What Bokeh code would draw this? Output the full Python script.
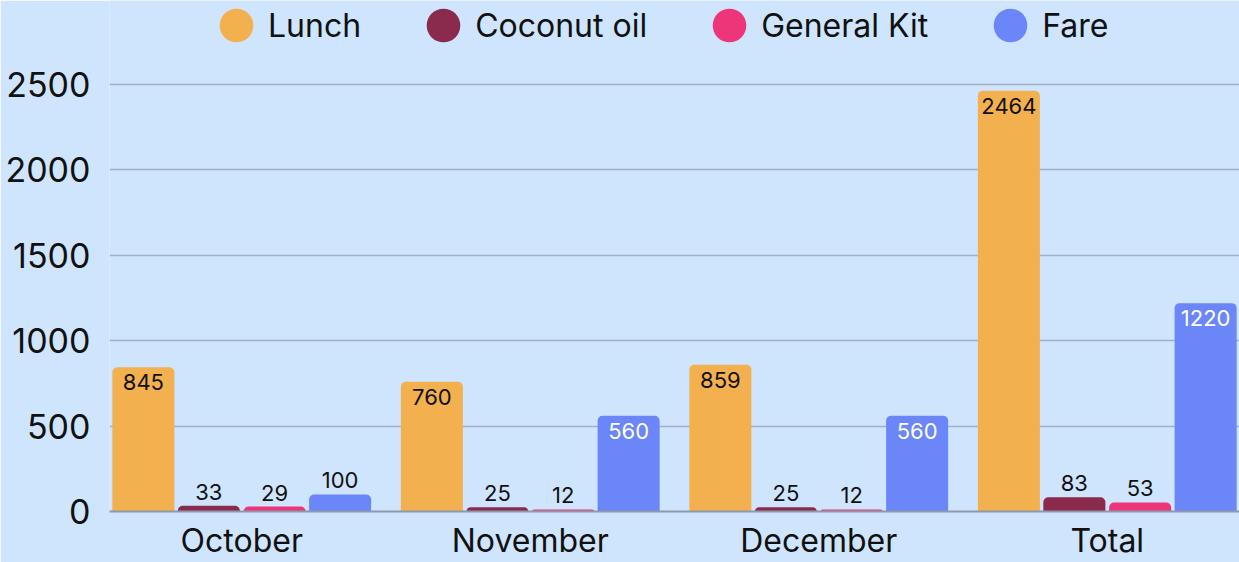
from bokeh.plotting import figure
from bokeh.models import (ColumnDataSource, FactorRange, Range1d, Legend, LegendItem,
                          SingleIntervalTicker)
from bokeh.transform import dodge
from bokeh.core.properties import value
from bokeh.embed import file_html
from bokeh.resources import INLINE

months = ["October", "November", "December", "Total"]
series = ["Lunch", "Coconut oil", "General Kit", "Fare"]
lunch = [845, 760, 859, 2464]
coconut_oil = [33, 25, 25, 83]
general_kit = [29, 12, 12, 53]
fare = [100, 560, 560, 1220]

colors = ["#f3b04e", "#8a2a4d", "#ec3679", "#6a86f8"]
inside_colors = ["#111111", "#ffffff", "#ffffff", "#ffffff"]
offsets = [-0.341, -0.114, 0.114, 0.341]
BG = "#cfe5fd"
FONT = "Inter"

p = figure(x_range=FactorRange(*months, range_padding=-0.0208),
           y_range=Range1d(0, 2992),
           width=1239, height=562,
           min_border_left=109, min_border_right=0, min_border_top=0, min_border_bottom=51,
           output_backend="svg", toolbar_location=None)
p.background_fill_color = BG
p.border_fill_color = BG
p.outline_line_color = None
# range used only so the legend-swatch glyphs fall outside the frame
p.extra_y_ranges = {"swatch": Range1d(-2, -1)}

values_list = [lunch, coconut_oil, general_kit, fare]
legend_items = []
for name, vals, col, icol, off in zip(series, values_list, colors, inside_colors, offsets):
    inside = [v >= 300 for v in vals]
    src = ColumnDataSource(dict(
        month=months, val=vals,
        label=[str(v) for v in vals],
        tcol=[icol if ins else "#111111" for ins in inside],
        yoff=[15 if ins else -14 for ins in inside],
    ))
    p.vbar(x=dodge("month", off, range=p.x_range), top="val", width=0.215, source=src,
           fill_color=col, line_color=None, border_radius=(5, 5, 0, 0))
    p.text(x=dodge("month", off, range=p.x_range), y="val", text="label", source=src,
           text_color="tcol", y_offset="yoff", text_align="center", text_baseline="middle",
           text_font=value(FONT), text_font_size="22px")
    r = p.ellipse(x=dodge("month", off, range=p.x_range), y="val", source=src,
                  width=34, height=34, width_units="screen", height_units="screen",
                  fill_color=col, line_color=None, y_range_name="swatch")
    legend_items.append(LegendItem(label=name, renderers=[r]))

legend = Legend(items=legend_items, orientation="horizontal", location=(106, 465),
                glyph_width=42, glyph_height=42, label_standoff=11, spacing=61,
                padding=0, margin=0, background_fill_alpha=0, border_line_color=None,
                label_text_font=FONT, label_text_font_size="32px", label_text_color="#111111")
p.add_layout(legend, "center")

p.yaxis.ticker = SingleIntervalTicker(interval=500)
p.yaxis.axis_line_color = None
p.yaxis.major_tick_line_color = None
p.yaxis.minor_tick_line_color = None
p.yaxis.major_label_standoff = 13
p.yaxis.major_label_text_font = FONT
p.yaxis.major_label_text_font_size = "34px"
p.yaxis.major_label_text_color = "#111111"

p.xaxis.axis_line_color = "#8e9aab"
p.xaxis.axis_line_width = 2
p.xaxis.major_tick_line_color = None
p.xaxis.minor_tick_line_color = None
p.xaxis.major_label_standoff = 3
p.xaxis.major_label_text_font = FONT
p.xaxis.major_label_text_font_size = "32px"
p.xaxis.major_label_text_color = "#111111"

p.xgrid.grid_line_color = None
p.ygrid.grid_line_color = "#a0b1c6"
p.ygrid.grid_line_width = 1.5

open("out.html", "w").write(file_html(p, INLINE))
